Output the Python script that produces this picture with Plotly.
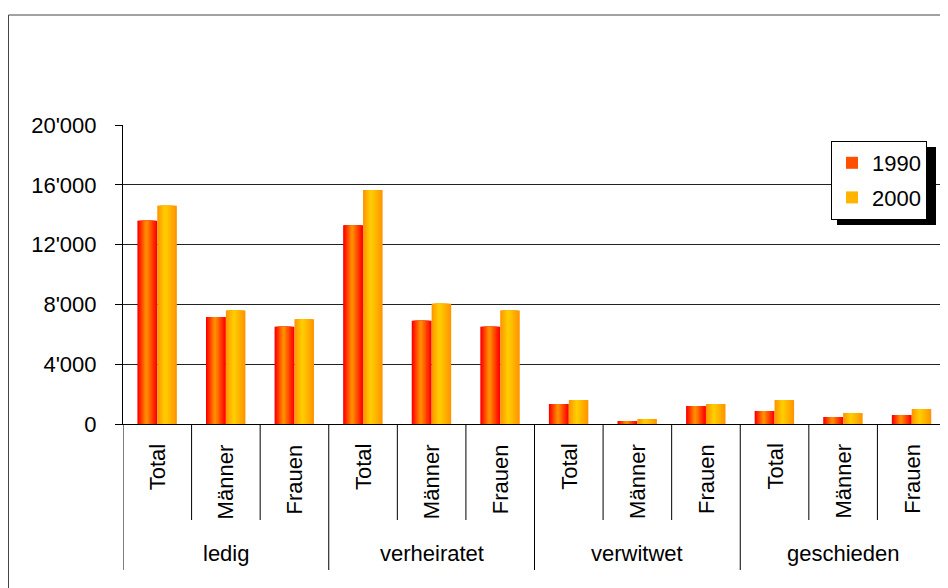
import plotly.graph_objects as go

groups = ["ledig", "verheiratet", "verwitwet", "geschieden"]
subgroups = ["Total", "Männer", "Frauen"]
years = ["1990", "2000"]

vals_1990 = [13600, 7150, 6500, 13300, 6900, 6500, 1340, 200, 1200, 870, 470, 600]
vals_2000 = [14600, 7600, 7000, 15650, 8050, 7600, 1600, 330, 1340, 1600, 730, 1000]

y_ticks = [0, 4000, 8000, 12000, 16000, 20000]

cats = [f"{g}|{s}" for g in groups for s in subgroups]

# the page adds an 8px body margin, so work in figure pixels (screen - 8)
FW, FH = 940, 580
L, R, T, B = 115, 938, 117, 416
W, H = R - L, B - T


def px_x(p):
    return (p - 8 - L) / W


def px_y(p):
    return (B - (p - 8)) / H


def mix(c1, c2, t):
    return "rgb(%d,%d,%d)" % tuple(round(a + (b - a) * t) for a, b in zip(c1, c2))


# gradient look: edge colour -> centre colour, built from layered bars
styles = {
    "1990": dict(vals=vals_1990, left=-0.29, right=0.0, peak=0.45,
                 edge=(255, 0, 0), centre=(255, 140, 0)),
    "2000": dict(vals=vals_2000, left=0.0, right=0.285, peak=0.4,
                 edge=(255, 150, 0), centre=(255, 204, 0)),
}
n_layers = 8

fig = go.Figure()
for yr in years:
    st = styles[yr]
    p = st["left"] + (st["right"] - st["left"]) * st["peak"]
    for k in range(n_layers):
        t = k / (n_layers - 1)
        lo = st["left"] + (p - st["left"]) * k / n_layers
        hi = st["right"] - (st["right"] - p) * k / n_layers
        fig.add_trace(go.Bar(
            x=cats, y=st["vals"], name=yr,
            offset=lo, width=hi - lo,
            marker=dict(color=mix(st["edge"], st["centre"], t), line=dict(width=0)),
            legendgroup=yr, showlegend=(k == n_layers // 2),
            hoverinfo="skip" if k else None,
        ))

# legend box (screen px): plotly's box is ~99 x 78
leg_left, leg_top, leg_w, leg_h = 831, 141, 99, 78

shapes = []
# chart border
shapes.append(dict(type="rect", xref="paper", yref="paper",
                   x0=px_x(8.5), x1=px_x(946.5), y0=px_y(600), y1=px_y(15),
                   line=dict(color="#444", width=1), layer="below"))
# legend shadow
shapes.append(dict(type="rect", xref="paper", yref="paper",
                   x0=px_x(leg_left + 6), x1=px_x(leg_left + leg_w + 6),
                   y0=px_y(leg_top + leg_h + 6), y1=px_y(leg_top + 6),
                   fillcolor="black", line=dict(width=0), layer="above"))
# category dividers
for i in range(len(cats) + 1):
    xb = i - 0.5
    long_line = i % 3 == 0
    shapes.append(dict(type="line", xref="x", yref="paper",
                       x0=xb, x1=xb, y0=0, y1=px_y(570 if long_line else 520),
                       line=dict(color="black", width=1)))

annotations = []
for i, c in enumerate(cats):
    annotations.append(dict(x=i, y=px_y(442), xref="x", yref="paper",
                            text=c.split("|")[1], textangle=-90, showarrow=False,
                            xanchor="center", yanchor="top",
                            font=dict(size=22, color="black")))
for j, g in enumerate(groups):
    annotations.append(dict(x=3 * j + 1, y=px_y(553), xref="x", yref="paper",
                            text=g, showarrow=False, xanchor="center", yanchor="middle",
                            font=dict(size=22, color="black")))

fig.update_layout(
    width=FW, height=FH,
    margin=dict(l=L, r=FW - R, t=T, b=FH - B),
    paper_bgcolor="white", plot_bgcolor="white",
    font=dict(family="Liberation Sans, Arial", size=22, color="black"),
    separators=".'",
    barmode="overlay",
    showlegend=True,
    legend=dict(x=px_x(leg_left), y=px_y(leg_top), xanchor="left", yanchor="top",
                bgcolor="white", bordercolor="black", borderwidth=1,
                font=dict(size=22), tracegroupgap=3, itemwidth=30),
    shapes=shapes,
    annotations=annotations,
)
fig.update_xaxes(type="category", showticklabels=False, showgrid=False,
                 showline=True, linecolor="black", linewidth=1,
                 range=[-0.5, len(cats) - 0.5], ticks="")
fig.update_yaxes(range=[0, 20000], tickvals=y_ticks, tickformat=",d",
                 showgrid=True, gridcolor="#222", gridwidth=1,
                 showline=True, linecolor="black", linewidth=1,
                 ticks="outside", ticklen=7, tickcolor="black",
                 ticklabelstandoff=14, zeroline=False,
                 tickfont=dict(size=22))

fig.write_html("out.html")
